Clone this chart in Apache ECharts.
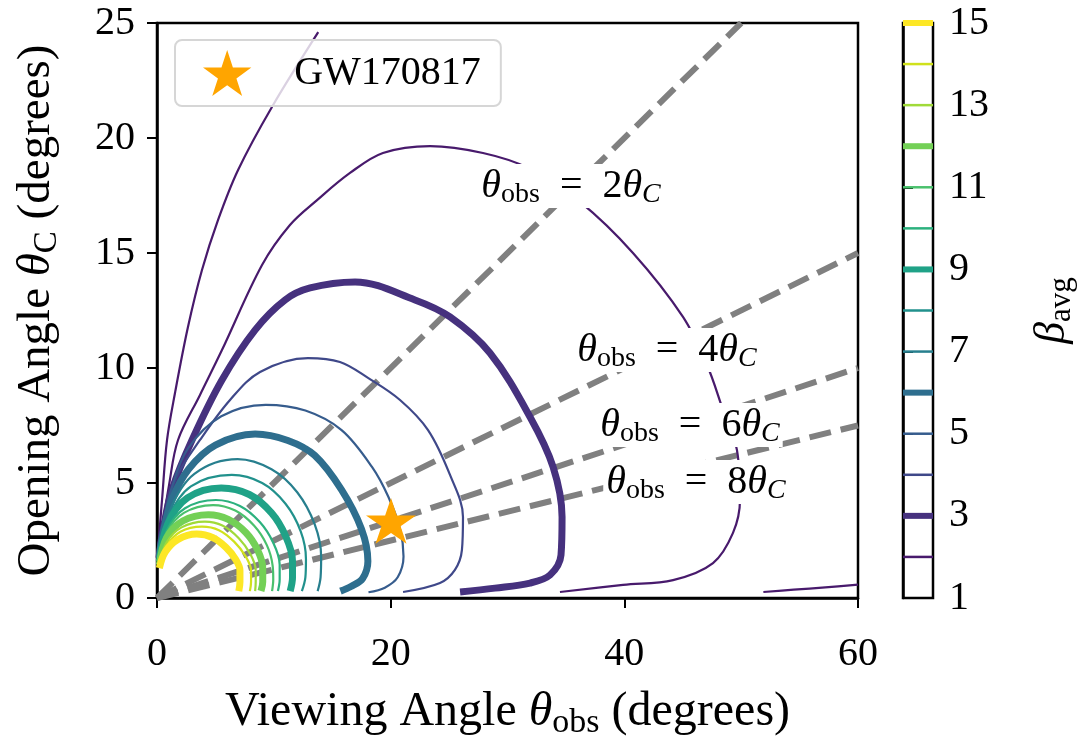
<!DOCTYPE html>
<html>
<head>
<meta charset="utf-8">
<script src="https://cdn.jsdelivr.net/npm/echarts@6/dist/echarts.min.js"></script>
<style>
  html, body { margin: 0; padding: 0; background: #ffffff; }
  #chart { width: 1079px; height: 737px; }
</style>
</head>
<body>
<div id="chart"></div>
<script>
// ---- axis ticks ----
const xTicks = [0, 20, 40, 60];
const yTicks = [0, 5, 10, 15, 20, 25];
const betaTicks = [1, 3, 5, 7, 9, 11, 13, 15];

// ---- contour levels of beta_avg (thick every third level) ----
const betaLevels = [2, 3, 4, 5, 6, 7, 8, 9, 10, 11, 12, 13, 14, 15];
const thickLevels = [3, 6, 9, 12, 15];

// ---- contour paths, [theta_obs, theta_C] in degrees ----
const beta2Upper = [[0.1,1.9],[0.2,2.8],[0.43,4.26],[0.86,6.87],[1.54,8.91],[2.65,11.78],[3.85,14.26],[5.22,16.43],[6.93,18.6],[9.84,21.35],[13.8,24.6]];
const beta2Loop = [[0.15,1.85],[0.43,2.96],[1.03,4.91],[1.8,6.87],[3.68,8.83],[5.56,10.78],[8.99,14.48],[11.38,16.22],[13.7,17.3],[16.52,18.48],[19.34,19.35],[23.37,19.65],[27.9,19.35],[31.76,18.7],[36.21,17.22],[40.74,15.0],[45.02,12.22],[47.08,10.13],[48.45,8.17],[49.64,6.43],[49.9,4.26],[49.3,2.83],[47.59,1.52],[44.17,0.78],[39.89,0.57],[34.49,0.26]];
const beta2Tail = [[51.9,0.26],[54.5,0.36],[57.2,0.46],[60,0.58]];
const beta3 = [[0.17,1.74],[0.51,2.96],[1.28,4.7],[3.0,6.87],[5.56,9.48],[8.39,11.65],[10.96,12.96],[13.1,13.48],[16.95,13.74],[22.08,12.96],[25.08,12.22],[28.5,10.65],[31.93,7.87],[33.9,5.7],[34.67,3.52],[34.58,1.87],[33.64,1.0],[31.93,0.65],[28.93,0.43],[25.94,0.26]];
const beta4 = [[0.2,1.85],[0.77,3.61],[1.63,5.22],[3.68,6.87],[6.25,8.61],[8.82,9.83],[12.92,10.43],[15.66,10.26],[18.06,9.57],[20.8,8.61],[23.2,7.3],[25.08,5.35],[26.19,3.52],[26.1,2.09],[25.5,1.22],[24.22,0.65],[21.06,0.26]];
const beta5 = [[0.2,1.8],[0.45,3.0],[1.2,4.7],[2.65,6.5],[5.5,7.9],[9.3,8.4],[12.7,8.15],[15.8,7.3],[18.4,5.7],[19.8,4.4],[20.8,3.0],[21.1,1.8],[20.6,0.9],[19.5,0.45],[18.1,0.25]];
const beta6 = [[0.2,1.75],[0.5,2.8],[1.3,4.3],[2.7,5.6],[5.0,6.65],[8.4,7.13],[11.2,6.85],[13.5,6.2],[15.8,4.7],[17.5,3.0],[18.05,1.6],[17.6,0.85],[16.6,0.5],[15.7,0.3]];
const beta7 = [[0.2,1.7],[1.1,3.8],[3.2,5.4],[6.9,6.04],[9.8,5.6],[12.0,4.6],[13.5,3.2],[14.05,1.8],[14.0,0.9],[13.75,0.3]];
const beta8 = [[0.2,1.65],[1.0,3.5],[2.9,4.85],[6.4,5.35],[9.0,5.0],[11.0,4.1],[12.3,2.9],[12.75,1.7],[12.7,0.9],[12.4,0.3]];
const beta9 = [[0.2,1.6],[0.9,3.2],[2.6,4.35],[5.5,4.78],[7.9,4.5],[9.8,3.7],[11.0,2.7],[11.6,1.6],[11.6,0.9],[11.4,0.3]];
const beta10 = [[0.2,1.55],[0.85,2.95],[2.4,3.9],[5.05,4.26],[7.1,4.0],[8.8,3.3],[9.95,2.4],[10.5,1.45],[10.5,0.8],[10.35,0.3]];
const beta11 = [[0.2,1.5],[0.8,2.8],[2.3,3.7],[4.8,4.04],[6.7,3.8],[8.3,3.15],[9.4,2.3],[9.9,1.4],[9.95,0.8],[9.85,0.3]];
const beta12 = [[0.2,1.45],[0.8,2.6],[2.2,3.35],[4.4,3.62],[6.1,3.42],[7.6,2.85],[8.6,2.1],[9.05,1.3],[9.05,0.7],[8.9,0.3]];
const beta13 = [[0.2,1.4],[0.8,2.4],[2.1,3.07],[4.1,3.32],[5.6,3.15],[7.0,2.6],[8.0,1.9],[8.45,1.2],[8.45,0.7],[8.4,0.3]];
const beta14 = [[0.2,1.35],[0.8,2.25],[2.0,2.88],[3.85,3.1],[5.3,2.95],[6.6,2.45],[7.6,1.8],[8.05,1.2],[8.05,0.7],[7.95,0.3]];
const beta15 = [[0.2,1.3],[0.7,2.0],[1.8,2.55],[3.4,2.78],[4.8,2.62],[5.9,2.2],[6.7,1.7],[7.1,1.2],[7.1,0.7],[7.0,0.3]];

// each level with its path pieces
const contourPieces = [
  [2, beta2Upper], [2, beta2Loop], [2, beta2Tail],
  [3, beta3], [4, beta4], [5, beta5], [6, beta6], [7, beta7], [8, beta8],
  [9, beta9], [10, beta10], [11, beta11], [12, beta12], [13, beta13],
  [14, beta14], [15, beta15]
];

// ---- reference lines theta_obs = k * theta_C ----
const ratioK = [2, 4, 6, 8];
const ratioLineEnds = [[50, 25], [60, 15], [60, 10], [60, 7.5]];
const ratioLabelAt = [[35.44, 17.91], [43.65, 10.78], [45.62, 7.52], [46.13, 5.04]];

// ---- GW170817 ----
const gwName = 'GW170817';
const gwPoint = [20.03, 3.35];

// viridis colours for levels 2..15 (normalised over 1..15)
const levelColors = {
  2: '#481a6c', 3: '#46317e', 4: '#3f4889', 5: '#365c8d', 6: '#2e6e8e',
  7: '#277f8e', 8: '#21918c', 9: '#1fa287', 10: '#2cb17e', 11: '#4ac16d',
  12: '#73d056', 13: '#a0da39', 14: '#d0e11c', 15: '#fde725'
};

const FONT = '"Liberation Serif", "Times New Roman", serif';
const STAR = 'path://M0,-1L0.2245,-0.309L0.951,-0.309L0.363,0.118L0.588,0.809L0,0.382L-0.588,0.809L-0.363,0.118L-0.951,-0.309L-0.2245,-0.309Z';

function rich(F) {
  const s = Math.round(F * 0.7);
  return {
    it:  { fontSize: F, fontStyle: 'italic', fontFamily: FONT, color: '#000', lineHeight: F + 4 },
    rm:  { fontSize: F, fontFamily: FONT, color: '#000', lineHeight: F + 4 },
    sub: { fontSize: s, fontFamily: FONT, color: '#000', lineHeight: s, padding: [Math.round(F * 0.45), 0, 0, 0] },
    subi:{ fontSize: s, fontStyle: 'italic', fontFamily: FONT, color: '#000', lineHeight: s, padding: [Math.round(F * 0.45), 0, 0, 0] }
  };
}

const series = [];

// dashed reference lines, under the contours
ratioLineEnds.forEach((end) => {
  series.push({
    type: 'line',
    xAxisIndex: 0, yAxisIndex: 0,
    data: [[0, 0], end],
    showSymbol: false,
    silent: true,
    clip: true,
    z: 2,
    lineStyle: { color: '#808080', width: 6, type: [22, 10], cap: 'butt' }
  });
});

contourPieces.forEach(([lvl, pts]) => {
  series.push({
    type: 'line',
    xAxisIndex: 0, yAxisIndex: 0,
    data: pts,
    smooth: 0.35,
    showSymbol: false,
    silent: true,
    clip: true,
    z: 3,
    lineStyle: {
      color: levelColors[lvl],
      width: thickLevels.includes(lvl) ? 7 : 2.2,
      cap: 'butt', join: 'round'
    }
  });
});

// inline labels for the reference lines
series.push({
  type: 'scatter',
  xAxisIndex: 0, yAxisIndex: 0,
  symbolSize: 0,
  silent: true,
  z: 5,
  itemStyle: { opacity: 1 },
  data: ratioK.map((k, i) => ({
    value: ratioLabelAt[i],
    label: { formatter: '{it|θ}{sub|obs}{rm|  =  ' + k + '}{it|θ}{subi|C}' }
  })),
  label: {
    show: true,
    position: 'inside',
    backgroundColor: '#ffffff',
    padding: [0, 3, 0, 3],
    rich: rich(40)
  }
});

series.push({
  name: gwName,
  type: 'scatter',
  xAxisIndex: 0, yAxisIndex: 0,
  data: [gwPoint],
  symbol: STAR,
  symbolKeepAspect: true,
  symbolSize: [50, 48],
  silent: true,
  z: 6,
  itemStyle: { color: '#ffa500', opacity: 1 }
});

// colour bar lines
betaLevels.forEach((lvl) => {
  series.push({
    type: 'line',
    xAxisIndex: 1, yAxisIndex: 1,
    data: [[0, lvl], [1, lvl]],
    showSymbol: false,
    silent: true,
    clip: false,
    z: 2,
    lineStyle: {
      color: levelColors[lvl],
      width: thickLevels.includes(lvl) ? 6 : 2.5,
      cap: 'butt'
    }
  });
});

const tickStyle = { show: true, inside: false, length: 10, lineStyle: { color: '#000', width: 2 } };
const lineStyleAxis = { show: true, lineStyle: { color: '#000', width: 2.5 } };
const labelStyle = { color: '#000', fontSize: 40, fontFamily: FONT };

const option = {
  animation: false,
  backgroundColor: '#ffffff',
  grid: [
    { left: 157, top: 23, width: 701, height: 575, show: true, borderColor: '#000', borderWidth: 2.5,
      backgroundColor: 'transparent', containLabel: false, outerBoundsMode: 'none' },
    { left: 903, top: 23, width: 30, height: 575, show: true, borderColor: '#000', borderWidth: 2.5,
      backgroundColor: 'transparent', containLabel: false, outerBoundsMode: 'none' }
  ],
  legend: {
    data: [{ name: gwName, icon: STAR }],
    left: 175, top: 40,
    orient: 'horizontal',
    itemWidth: 50, itemHeight: 46,
    symbolKeepAspect: true,
    padding: [10, 20, 10, 28],
    backgroundColor: 'rgba(255,255,255,0.8)',
    borderColor: '#d6d6d6', borderWidth: 2, borderRadius: 7,
    textStyle: { color: '#000', fontSize: 40, fontFamily: FONT, padding: [0, 0, 0, 37] },
    itemStyle: { color: '#ffa500' },
    selectedMode: false
  },
  xAxis: [
    {
      gridIndex: 0, type: 'value', min: xTicks[0], max: xTicks[xTicks.length - 1], interval: 20,
      axisLine: lineStyleAxis, axisTick: tickStyle, splitLine: { show: false },
      axisLabel: Object.assign({ margin: 36 }, labelStyle),
      name: 'Viewing Angle {it|θ}{sub|obs} (degrees)',
      nameLocation: 'middle', nameGap: 88,
      nameTextStyle: { color: '#000', fontSize: 48, fontFamily: FONT, lineHeight: 52, rich: rich(48) }
    },
    {
      gridIndex: 1, type: 'value', min: 0, max: 1, show: false
    }
  ],
  yAxis: [
    {
      gridIndex: 0, type: 'value', min: yTicks[0], max: yTicks[yTicks.length - 1], interval: 5,
      axisLine: lineStyleAxis, axisTick: tickStyle, splitLine: { show: false },
      axisLabel: Object.assign({ margin: 22 }, labelStyle),
      name: 'Opening Angle {it|θ}{sub|C} (degrees)',
      nameLocation: 'middle', nameGap: 95, nameRotate: 90,
      nameTextStyle: { color: '#000', fontSize: 47, fontFamily: FONT, lineHeight: 51, rich: rich(47) }
    },
    {
      gridIndex: 1, type: 'value', position: 'right',
      min: betaTicks[0], max: betaTicks[betaTicks.length - 1], interval: 2,
      axisLine: lineStyleAxis, axisTick: tickStyle, splitLine: { show: false },
      axisLabel: Object.assign({ margin: 16 }, labelStyle),
      name: '{it|β}{sub|avg}',
      nameLocation: 'middle', nameGap: 95, nameRotate: 90,
      nameTextStyle: { color: '#000', fontSize: 44, fontFamily: FONT, lineHeight: 48, rich: rich(44) }
    }
  ],
  series: series
};

const chart = echarts.init(document.getElementById('chart'), null, { renderer: 'canvas' });
chart.setOption(option);
</script>
</body>
</html>
